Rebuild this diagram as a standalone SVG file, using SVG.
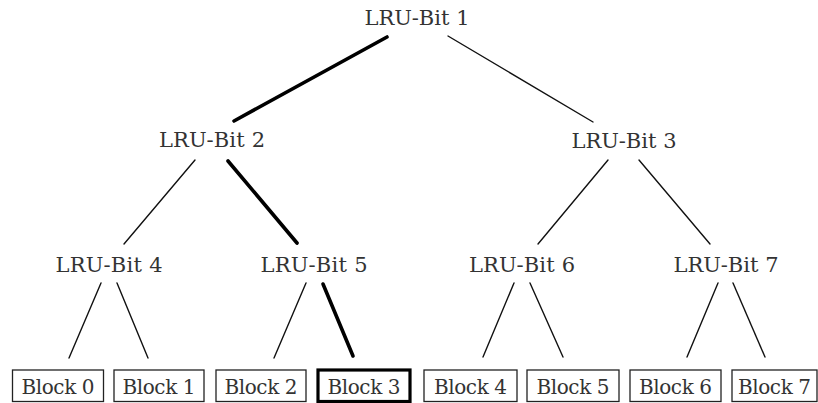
<svg xmlns="http://www.w3.org/2000/svg" width="818" height="403" viewBox="0 0 818 403">
<style>
.lbl{font-family:'DejaVu Serif',serif;font-size:21px;fill:#333;text-anchor:middle}
.blk{font-size:20px}
.e{stroke:#111;stroke-width:1.4;stroke-linecap:round;fill:none}
.t{stroke:#000;stroke-width:3.6;stroke-linecap:round;fill:none}
.box{fill:#fff;stroke:#222;stroke-width:1.3}
.tbox{fill:#fff;stroke:#000;stroke-width:3.2}
</style>
<rect width="818" height="403" fill="#fff"/>
<g id="connectors">
<line class="t" x1="387" y1="37" x2="234" y2="121"/>
<line class="e" x1="448" y1="36" x2="593" y2="122"/>
<line class="e" x1="195" y1="160" x2="124" y2="244"/>
<line class="t" x1="228" y1="161" x2="297" y2="243"/>
<line class="e" x1="608" y1="160" x2="538" y2="244"/>
<line class="e" x1="639" y1="160" x2="710" y2="244"/>
<line class="e" x1="101" y1="283" x2="69" y2="358"/>
<line class="e" x1="117" y1="283" x2="148" y2="358"/>
<line class="e" x1="306" y1="283" x2="274" y2="358"/>
<line class="t" x1="323" y1="284" x2="353" y2="356"/>
<line class="e" x1="514" y1="283" x2="483" y2="357"/>
<line class="e" x1="530" y1="283" x2="563" y2="357"/>
<line class="e" x1="718" y1="283" x2="687" y2="357"/>
<line class="e" x1="733" y1="283" x2="765" y2="357"/>
</g>
<g id="bit1"><text class="lbl" x="417" y="25" textLength="105">LRU-Bit 1</text></g>
<g id="bit2"><text class="lbl" x="212" y="147" textLength="106">LRU-Bit 2</text></g>
<g id="bit3"><text class="lbl" x="624" y="148" textLength="105">LRU-Bit 3</text></g>
<g id="bit4"><text class="lbl" x="109" y="272" textLength="107">LRU-Bit 4</text></g>
<g id="bit5"><text class="lbl" x="314" y="272" textLength="107">LRU-Bit 5</text></g>
<g id="bit6"><text class="lbl" x="522" y="272" textLength="106">LRU-Bit 6</text></g>
<g id="bit7"><text class="lbl" x="726" y="272" textLength="105">LRU-Bit 7</text></g>
<g id="block0"><rect class="box" x="12.5" y="370" width="91" height="31.5"/><text class="lbl blk" x="58" y="394" textLength="73">Block 0</text></g>
<g id="block1"><rect class="box" x="114" y="370" width="90" height="31.5"/><text class="lbl blk" x="159" y="394" textLength="73">Block 1</text></g>
<g id="block2"><rect class="box" x="216" y="370" width="90" height="31.5"/><text class="lbl blk" x="261" y="394" textLength="73">Block 2</text></g>
<g id="block3"><rect class="tbox" x="318" y="370" width="92" height="31.5"/><text class="lbl blk" x="364" y="394" textLength="73">Block 3</text></g>
<g id="block4"><rect class="box" x="424" y="370" width="93" height="31.5"/><text class="lbl blk" x="470.5" y="394" textLength="73">Block 4</text></g>
<g id="block5"><rect class="box" x="527" y="370" width="92" height="31.5"/><text class="lbl blk" x="573" y="394" textLength="73">Block 5</text></g>
<g id="block6"><rect class="box" x="630" y="370" width="91" height="31.5"/><text class="lbl blk" x="675.5" y="394" textLength="73">Block 6</text></g>
<g id="block7"><rect class="box" x="732" y="370" width="85" height="31.5"/><text class="lbl blk" x="774.5" y="394" textLength="73">Block 7</text></g>
</svg>
